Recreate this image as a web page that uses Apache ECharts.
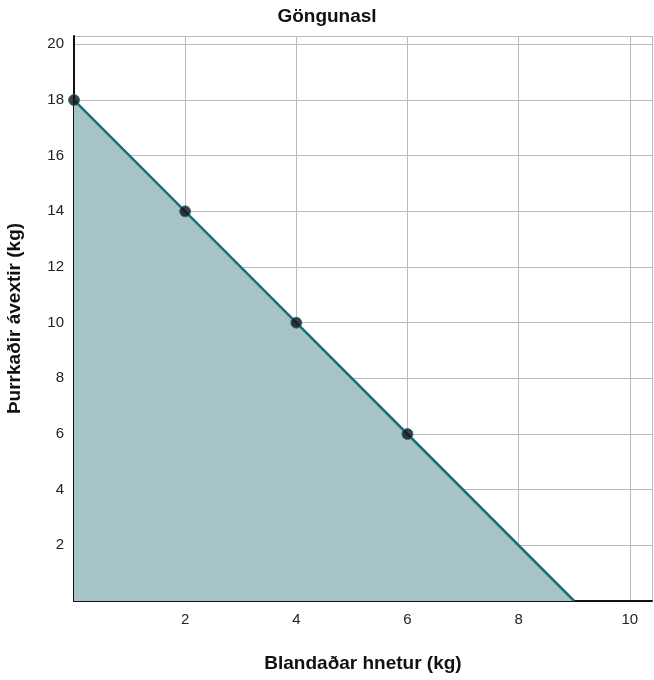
<!DOCTYPE html>
<html><head><meta charset="utf-8">
<script src="https://cdn.jsdelivr.net/npm/echarts@6/dist/echarts.min.js"></script>
<style>html,body{margin:0;padding:0;background:#fff}#c{width:654px;height:680px}</style>
</head><body><div id="c"></div>
<script>
const nuts = [0, 2, 4, 6, 9];
const fruit = [18, 14, 10, 6, 0];
const markedNuts = [0, 2, 4, 6];
const markedFruit = [18, 14, 10, 6];
const chart = echarts.init(document.getElementById('c'));
const font = 'Helvetica, "Liberation Sans", Arial, sans-serif';
chart.setOption({
  animation: false,
  title: {text: 'Göngunasl', left: 'center', top: 2, textStyle: {fontFamily: font, fontWeight: 'bold', fontSize: 19, color: '#111'}},
  grid: {left: 74, right: 2, top: 36, bottom: 79, outerBoundsMode: 'none', containLabel: false},
  xAxis: {type: 'value', min: 0, max: 10.4, interval: 2,
    name: 'Blandaðar hnetur (kg)', nameLocation: 'middle', nameGap: 53,
    nameTextStyle: {fontFamily: font, fontWeight: 'bold', fontSize: 19, color: '#111'},
    axisLine: {lineStyle: {color: '#111', width: 2}}, axisTick: {show: false},
    axisLabel: {fontFamily: font, fontSize: 15, color: '#222', margin: 11,
      formatter: v => (v === 0 || v > 10) ? '' : v},
    splitLine: {lineStyle: {color: '#bbb', width: 1}}},
  yAxis: {type: 'value', min: 0, max: 20.3, interval: 2,
    name: 'Þurrkaðir ávextir (kg)', nameLocation: 'middle', nameGap: 50,
    nameTextStyle: {fontFamily: font, fontWeight: 'bold', fontSize: 19, color: '#111'},
    axisLine: {show: true, lineStyle: {color: '#111', width: 2}}, axisTick: {show: false},
    axisLabel: {fontFamily: font, fontSize: 15, color: '#222', margin: 10,
      formatter: v => (v === 0 || v > 20) ? '' : v},
    splitLine: {lineStyle: {color: '#bbb', width: 1}}},
  series: [
    {type: 'line', data: nuts.map((x, i) => [x, fruit[i]]), showSymbol: false,
      lineStyle: {color: '#1f6e75', width: 2.5},
      areaStyle: {color: '#a6c3c5', opacity: 1}, z: 2},
    {type: 'scatter', data: markedNuts.map((x, i) => [x, markedFruit[i]]),
      symbolSize: 11, itemStyle: {color: '#111', borderColor: '#1f6e75', borderWidth: 1}, z: 3}
  ]
});
</script></body></html>
